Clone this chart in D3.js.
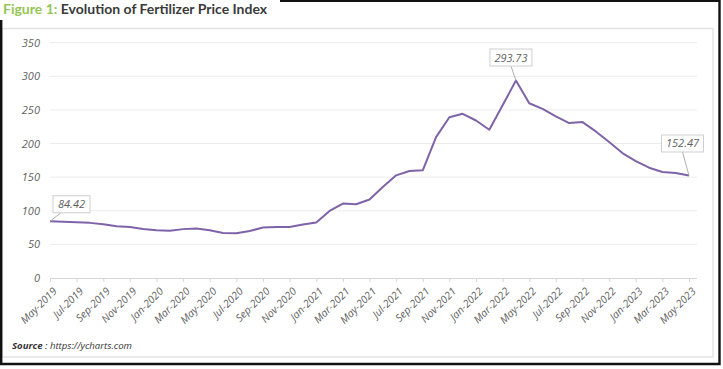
<!DOCTYPE html>
<html>
<head>
<meta charset="utf-8">
<script src="https://cdn.jsdelivr.net/npm/d3@7"></script>
<style>
  body { margin: 0; background: #fff; }
  svg { display: block; font-family: "Open Sans", sans-serif; }
</style>
</head>
<body>
<script>
// monthly fertilizer price index, May-2019 .. May-2023
const months = ["May-2019","Jun-2019","Jul-2019","Aug-2019","Sep-2019","Oct-2019","Nov-2019","Dec-2019",
  "Jan-2020","Feb-2020","Mar-2020","Apr-2020","May-2020","Jun-2020","Jul-2020","Aug-2020","Sep-2020","Oct-2020","Nov-2020","Dec-2020",
  "Jan-2021","Feb-2021","Mar-2021","Apr-2021","May-2021","Jun-2021","Jul-2021","Aug-2021","Sep-2021","Oct-2021","Nov-2021","Dec-2021",
  "Jan-2022","Feb-2022","Mar-2022","Apr-2022","May-2022","Jun-2022","Jul-2022","Aug-2022","Sep-2022","Oct-2022","Nov-2022","Dec-2022",
  "Jan-2023","Feb-2023","Mar-2023","Apr-2023","May-2023"]

const priceIndex = [84.42,83.8,83.0,82.0,80.0,77.0,76.0,73.0,71.2,70.2,
  72.7,73.7,71.0,67.0,66.5,70.0,75.0,76.0,76.0,79.6,
  82.6,99.8,110.7,109.7,116.7,135.4,152.7,159.2,160.2,209.6,
  239.2,244.2,234.3,220.5,257.0,293.73,260.0,251.6,240.3,230.4,
  231.9,218.0,202.2,185.9,174.0,164.1,157.7,156.2,152.47]

const tickLabels = ["May-2019","Jul-2019","Sep-2019","Nov-2019","Jan-2020","Mar-2020","May-2020","Jul-2020","Sep-2020","Nov-2020",
  "Jan-2021","Mar-2021","May-2021","Jul-2021","Sep-2021","Nov-2021","Jan-2022","Mar-2022","May-2022","Jul-2022",
  "Sep-2022","Nov-2022","Jan-2023","Mar-2023","May-2023"]

const yTicks = [0,50,100,150,200,250,300,350]

// which points get a value callout
const calloutMonths = ["May-2019","Apr-2022","May-2023"]

const width = 723, height = 369
const lineColor = "#7f63a8", textColor = "#5f5f5f"

const svg = d3.select("body").append("svg")
    .attr("width", width)
    .attr("height", height)

// frame
svg.append("rect").attr("x",2).attr("y",28.5).attr("width",711).attr("height",328.5)
    .attr("fill","none").attr("stroke","#e3e3e3").attr("stroke-width",1.5)
svg.append("path").attr("d","M1.2,20 V364 H719.5 V0.8 H280")
    .attr("fill","none").attr("stroke","#111").attr("stroke-width",2.4)

// title
const title = svg.append("text").attr("x",3).attr("y",14)
    .attr("font-family","Lato, sans-serif").attr("font-weight","bold").attr("font-size",14)
title.append("tspan").attr("fill","#94c655").text("Figure 1: ")
title.append("tspan").attr("fill","#3a3a3a").text("Evolution of Fertilizer Price Index")

const x = d3.scalePoint().domain(months).range([50,689])
const y = d3.scaleLinear().domain([0,350]).range([278,42.7])

// gridlines
svg.append("g").selectAll("line").data(yTicks.filter(d=>d>0)).join("line")
    .attr("x1",50).attr("x2",697)
    .attr("y1",d=>y(d)).attr("y2",d=>y(d))
    .attr("stroke","#ececec").attr("stroke-width",1)

// y axis labels
svg.append("g")
    .attr("transform","translate(50,0)")
    .call(d3.axisLeft(y).tickValues(yTicks).tickSize(0).tickPadding(10))
    .call(g=>g.select(".domain").remove())
    .selectAll("text")
    .attr("font-family","Open Sans, sans-serif").attr("font-style","italic")
    .attr("font-size",11).attr("fill",textColor)

// x axis
const xAxis = svg.append("g")
    .attr("transform",`translate(0,${y(0)})`)
    .call(d3.axisBottom(x).tickValues(tickLabels).tickSize(4).tickSizeOuter(0))
xAxis.select(".domain").attr("d","M50,0.5H697").attr("stroke","#d6d6d6")
xAxis.selectAll(".tick line").attr("stroke","#d6d6d6")
xAxis.selectAll(".tick text")
    .attr("font-family","Open Sans, sans-serif").attr("font-style","italic")
    .attr("font-size",10.5).attr("fill",textColor)
    .attr("text-anchor","end")
    .attr("dy",0).attr("y",0)
    .attr("transform","translate(7,14) rotate(-45)")

// line
svg.append("path")
    .datum(priceIndex)
    .attr("fill","none").attr("stroke",lineColor).attr("stroke-width",2)
    .attr("stroke-linejoin","round")
    .attr("d", d3.line().x((d,i)=>x(months[i])).y(d=>y(d)))

// callouts
const calloutStyle = [
  {dx:21.5, dy:-17, w:37},
  {dx:-5, dy:-23, w:42},
  {dx:-6.5, dy:-32, w:42}
]
calloutMonths.forEach((m,k)=>{
  const i = months.indexOf(m)
  const px = x(m), py = y(priceIndex[i])
  const s = calloutStyle[k]
  const cx = px + s.dx, cy = py + s.dy, h = 17
  const g = svg.append("g")
  g.append("line").attr("x1",px).attr("y1",py)
      .attr("x2",cx + (s.dx>0 ? -s.w/2+8 : 0)).attr("y2",cy + h/2)
      .attr("stroke","#b0b0b0").attr("stroke-width",1)
  g.append("rect").attr("x",cx-s.w/2).attr("y",cy-h/2).attr("width",s.w).attr("height",h)
      .attr("fill","#fff").attr("stroke","#cfcfcf").attr("stroke-width",1)
  g.append("text").attr("x",cx).attr("y",cy+4)
      .attr("text-anchor","middle")
      .attr("font-family","Open Sans, sans-serif").attr("font-style","italic")
      .attr("font-size",11).attr("fill",textColor)
      .text(d3.format(".2f")(priceIndex[i]))
})

// source
const src = svg.append("text").attr("x",12).attr("y",349)
    .attr("font-family","Open Sans, sans-serif").attr("font-style","italic")
    .attr("font-size",9.6).attr("fill","#333")
src.append("tspan").attr("font-weight","bold").text("Source")
src.append("tspan").text(" : https://ycharts.com")
</script>
</body>
</html>
